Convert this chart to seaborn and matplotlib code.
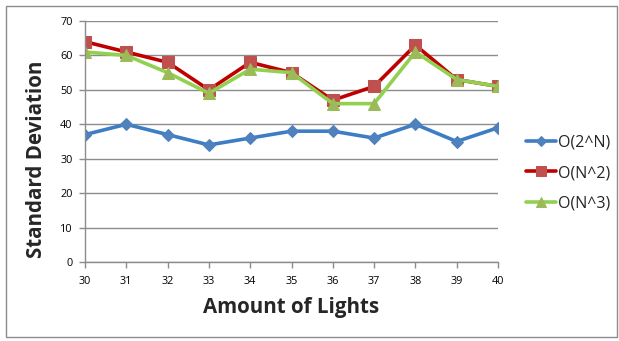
import matplotlib
matplotlib.use("Agg")
import matplotlib.pyplot as plt
from matplotlib.patches import Rectangle
import seaborn as sns
import pandas as pd

lights = [30, 31, 32, 33, 34, 35, 36, 37, 38, 39, 40]
o_2n = [37, 40, 37, 34, 36, 38, 38, 36, 40, 35, 39]
o_n2 = [64, 61, 58, 50, 58, 55, 47, 51, 63, 53, 51]
o_n3 = [61, 60, 55, 49, 56, 55, 46, 46, 61, 53, 51]
series_names = ["O(2^N)", "O(N^2)", "O(N^3)"]

df = pd.DataFrame({
    "Amount of Lights": lights * 3,
    "Standard Deviation": o_2n + o_n2 + o_n3,
    "series": [s for s in series_names for _ in lights],
})

sns.set_theme(style="white")
plt.rcParams["font.family"] = ["Open Sans", "DejaVu Sans"]

line_colors = {"O(2^N)": "#3C7DC4", "O(N^2)": "#C00000", "O(N^3)": "#92D050"}
marker_colors = {"O(2^N)": "#4F81BD", "O(N^2)": "#C0504D", "O(N^3)": "#9BBB59"}
markers = {"O(2^N)": "D", "O(N^2)": "s", "O(N^3)": "^"}
sizes = {"O(2^N)": 6, "O(N^2)": 8, "O(N^3)": 8}

W, H = 619, 341
fig = plt.figure(figsize=(W / 100, H / 100), dpi=100)
ax = fig.add_axes([85 / W, 1 - 262 / H, 413 / W, 241 / H])

for name in series_names:
    sub = df[df["series"] == name]
    sns.lineplot(data=sub, x="Amount of Lights", y="Standard Deviation",
                 ax=ax, color=line_colors[name], linewidth=2.6,
                 marker=markers[name], markersize=sizes[name],
                 markerfacecolor=marker_colors[name],
                 markeredgecolor=marker_colors[name], label=name,
                 legend=False)

ax.set_xlim(30, 40)
ax.set_ylim(0, 70)
ax.set_xticks(lights)
ax.set_yticks(range(0, 71, 10))
ax.grid(axis="y", color="#8C8C8C", linewidth=1.0)
ax.set_axisbelow(True)
for side in ["top", "right"]:
    ax.spines[side].set_visible(False)
for side in ["left", "bottom"]:
    ax.spines[side].set_color("#8C8C8C")
    ax.spines[side].set_linewidth(1.0)
ax.tick_params(axis="both", which="major", length=4, width=1, color="#8C8C8C",
               labelsize=7.8, labelcolor="black", direction="out",
               bottom=True, left=True)
ax.tick_params(axis="x", pad=6)
ax.tick_params(axis="y", pad=5)
ax.set_xlabel("")
ax.set_ylabel("")

fig.text(291 / W, 1 - 307 / H, "Amount of Lights", fontsize=14.8,
         fontweight="bold", ha="center", va="center")
fig.text(37 / W, 1 - 159 / H, "Standard Deviation", fontsize=14.8,
         fontweight="bold", ha="center", va="center", rotation=90)

handles, labels = ax.get_legend_handles_labels()
fig.legend(handles, labels, loc="center left", bbox_to_anchor=(526 / W, 1 - 173 / H),
           frameon=False, fontsize=11.5, handlelength=1.9, handletextpad=0.1,
           labelspacing=0.9, borderaxespad=0, borderpad=0, markerscale=0.85)

fig.patches.append(Rectangle((6 / W, 4 / H), 611 / W, 331 / H,
                             transform=fig.transFigure, fill=False,
                             edgecolor="#8C8C8C", linewidth=1.0))

fig.savefig("out.png", dpi=100)
